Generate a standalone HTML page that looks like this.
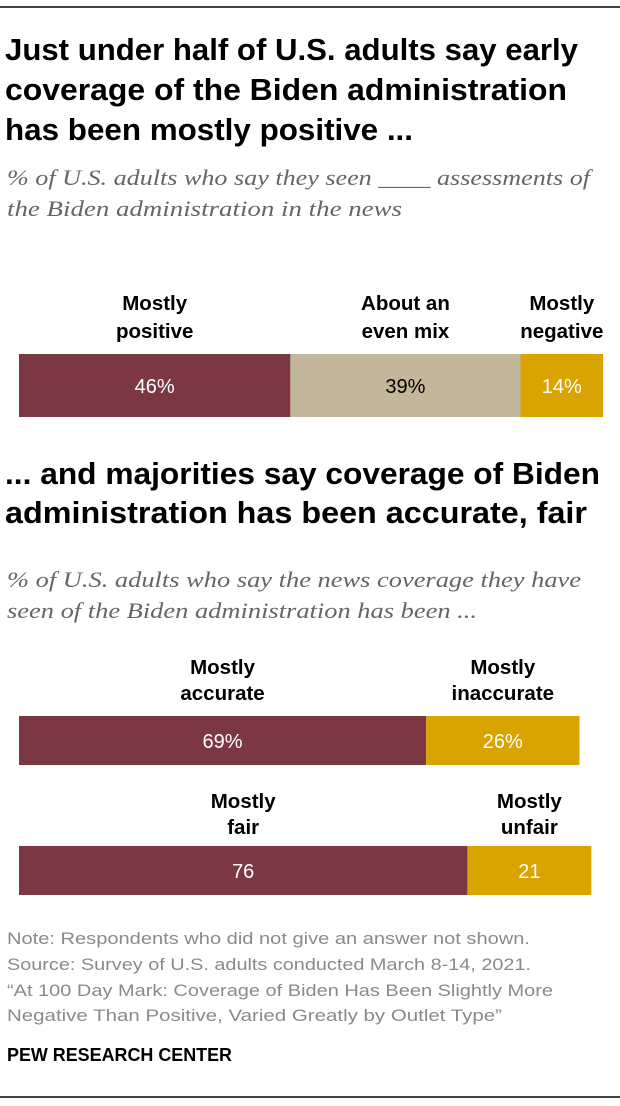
<!DOCTYPE html>
<html><head><meta charset="utf-8"><style>
html,body{margin:0;padding:0;background:#fff;}
svg{display:block;}
.t{font-family:"Liberation Sans Narrow","Liberation Sans",sans-serif;font-weight:bold;font-size:31px;fill:#000;}
.s{font-family:"Liberation Serif",serif;font-style:italic;font-size:22px;fill:#666;}
.l{font-family:"Liberation Sans",sans-serif;font-weight:bold;font-size:20.5px;fill:#000;text-anchor:middle;}
.v{font-family:"Liberation Sans",sans-serif;font-size:20px;text-anchor:middle;}
.n{font-family:"Liberation Sans Narrow","Liberation Sans",sans-serif;font-size:17px;fill:#8a8a8a;}
</style></head><body>
<svg id="chart" width="620" height="1106" viewBox="0 0 620 1106">
<line x1="0" y1="7" x2="620" y2="7" stroke="#000" stroke-width="1.5"/>
<g>
<text class="t" x="5" y="60" textLength="573" lengthAdjust="spacingAndGlyphs">Just under half of U.S. adults say early</text>
<text class="t" x="5" y="100" textLength="562" lengthAdjust="spacingAndGlyphs">coverage of the Biden administration</text>
<text class="t" x="5" y="140" textLength="408" lengthAdjust="spacingAndGlyphs">has been mostly positive ...</text>
</g>
<g>
<text class="s" x="7" y="185" textLength="583" lengthAdjust="spacingAndGlyphs">% of U.S. adults who say they seen ____ assessments of</text>
<text class="s" x="7" y="216" textLength="395" lengthAdjust="spacingAndGlyphs">the Biden administration in the news</text>
</g>
<g id="bars"></g>
<g>
<text class="t" x="5" y="484" textLength="595" lengthAdjust="spacingAndGlyphs">... and majorities say coverage of Biden</text>
<text class="t" x="5" y="523" textLength="582" lengthAdjust="spacingAndGlyphs">administration has been accurate, fair</text>
</g>
<g>
<text class="s" x="7" y="587" textLength="574" lengthAdjust="spacingAndGlyphs">% of U.S. adults who say the news coverage they have</text>
<text class="s" x="7" y="618" textLength="470" lengthAdjust="spacingAndGlyphs">seen of the Biden administration has been ...</text>
</g>
<g>
<text class="n" x="7" y="944" textLength="523" lengthAdjust="spacingAndGlyphs">Note: Respondents who did not give an answer not shown.</text>
<text class="n" x="7" y="970" textLength="524" lengthAdjust="spacingAndGlyphs">Source: Survey of U.S. adults conducted March 8-14, 2021.</text>
<text class="n" x="7" y="996" textLength="546" lengthAdjust="spacingAndGlyphs">“At 100 Day Mark: Coverage of Biden Has Been Slightly More</text>
<text class="n" x="7" y="1021" textLength="495" lengthAdjust="spacingAndGlyphs">Negative Than Positive, Varied Greatly by Outlet Type”</text>
</g>
<text x="7" y="1061" textLength="225" lengthAdjust="spacingAndGlyphs" style="font-family:'Liberation Sans Narrow','Liberation Sans',sans-serif;font-weight:bold;font-size:18px;">PEW RESEARCH CENTER</text>
<line x1="0" y1="1097" x2="620" y2="1097" stroke="#000" stroke-width="1.5"/>
</svg>
<script>
const rowNames = ["tone", "accuracy", "fairness"];
const tone = [46, 39, 14];
const toneLabels = [["Mostly","positive"],["About an","even mix"],["Mostly","negative"]];
const toneText = ["46%","39%","14%"];
const accuracy = [69, 26];
const accuracyLabels = [["Mostly","accurate"],["Mostly","inaccurate"]];
const accuracyText = ["69%","26%"];
const fairness = [76, 21];
const fairnessLabels = [["Mostly","fair"],["Mostly","unfair"]];
const fairnessText = ["76","21"];

const NS = "http://www.w3.org/2000/svg";
const x0 = 19, scale = 5.9;
function xPos(v){ return x0 + v*scale; }
const g = document.getElementById("bars");
function mk(tag, attrs, parent){ const e=document.createElementNS(NS,tag); for(const k in attrs) e.setAttribute(k,attrs[k]); parent.appendChild(e); return e; }

function drawRow(name, vals, labels, texts, colors, textColors, top, h, lab1, lab2, valY){
  const row = mk("g",{},g);
  
  
  let cum = 0;
  vals.forEach((v,i)=>{
    const xa = xPos(cum), xb = xPos(cum+v);
    const r = mk("rect",{x:xa,y:top,width:xb-xa,height:h,fill:colors[i]},row);
    
    
    const cx = (xa+xb)/2;
    const t = mk("text",{class:"v",x:cx,y:valY,fill:textColors[i]},row);
    t.textContent = texts[i];
    
    
    const la = mk("text",{class:"l",x:cx,y:lab1},row);
    la.textContent = labels[i][0];
    
    
    const lb = mk("text",{class:"l",x:cx,y:lab2},row);
    lb.textContent = labels[i][1];
    
    
    cum += v;
  });
}
const M="#7b3843", B="#c2b79a", G="#d9a300";
drawRow(rowNames[0], tone, toneLabels, toneText, [M,B,G], ["#fff","#000","#fff"], 354, 63, 310, 338, 393);
drawRow(rowNames[1], accuracy, accuracyLabels, accuracyText, [M,G], ["#fff","#fff"], 716, 49, 674, 700, 748);
drawRow(rowNames[2], fairness, fairnessLabels, fairnessText, [M,G], ["#fff","#fff"], 846, 49, 808, 834, 878);
</script>
</body></html>
